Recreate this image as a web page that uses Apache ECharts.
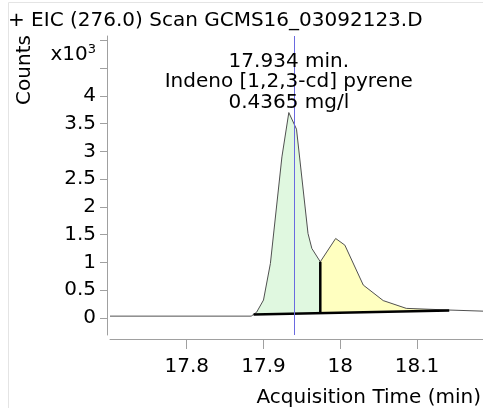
<!DOCTYPE html>
<html>
<head>
<meta charset="utf-8">
<script src="https://cdn.jsdelivr.net/npm/echarts@6.0.0/dist/echarts.min.js"></script>
<style>
html, body { margin: 0; padding: 0; background: #fff; }
#chart { width: 483px; height: 408px; }
</style>
</head>
<body>
<div id="chart"></div>
<script>
/*色谱曲线 (x: min, y: counts x10^3)*/
var times  = [17.700, 17.884, 17.887, 17.891, 17.900, 17.909, 17.924, 17.933, 17.943, 17.958, 17.963, 17.974, 17.994, 18.006, 18.030, 18.056, 18.086, 18.142, 18.186];
var counts = [0.03,   0.03,   0.06,   0.10,   0.32,   0.98,   2.90,   3.70,   3.40,   1.52,   1.25,   1.01,   1.43,   1.31,   0.59,   0.31,   0.17,   0.14,   0.12];

/*积分基线: 起点, 分割点, 终点*/
var baseTimes  = [17.887, 17.974, 18.142];
var baseCounts = [0.06, 0.08, 0.13];

/*积分区间*/
var peakRanges = [[17.887, 17.974], [17.974, 18.142]];
var peakColors = ['#e0f8e0', '#ffffc0'];

var markerTime = 17.943;
var peakLabel = ['17.934 min.', 'Indeno [1,2,3-cd] pyrene', '0.4365 mg/l'];

var xTicks = [17.8, 17.9, 18, 18.1];
var yTicks = [0, 0.5, 1, 1.5, 2, 2.5, 3, 3.5, 4, 4.5, 5];
var yLabels = [0, 0.5, 1, 1.5, 2, 2.5, 3, 3.5, 4];

var FONT = 'DejaVu Sans';
var FS = 20;
var AXIS_COLOR = '#a0a0a0';

function baseAt(t) {
	for (var i = 0; i < baseTimes.length; i++) {
		if (baseTimes[i] === t) return baseCounts[i];
	}
	return 0;
}

var curveData = [];
for (var i = 0; i < times.length; i++) {
	curveData.push([times[i], counts[i]]);
}
var baseData = [];
for (var j = 0; j < baseTimes.length; j++) {
	if (j !== 1) baseData.push([baseTimes[j], baseCounts[j]]);
}
var splitT = baseTimes[1];
var splitData = [[splitT, baseCounts[1]], [splitT, counts[times.indexOf(splitT)]]];

var peakIdx = counts.indexOf(Math.max.apply(null, counts));

var option = {
	animation: false,
	textStyle: { fontFamily: FONT },
	grid: { left: 110, right: 0, top: 36, bottom: 73 },
	xAxis: {
		type: 'value',
		min: 17.70,
		max: 18.186,
		offset: 4,
		axisLine: { show: true, onZero: false, lineStyle: { color: AXIS_COLOR, width: 1 } },
		axisTick: { show: true, length: 10, lineStyle: { color: AXIS_COLOR }, customValues: xTicks },
		axisLabel: { color: '#000', fontSize: FS, fontFamily: FONT, margin: 18, customValues: xTicks },
		splitLine: { show: false }
	},
	yAxis: {
		type: 'value',
		min: -0.31,
		max: 5.08,
		offset: 3,
		axisLine: { show: true, onZero: false, lineStyle: { color: AXIS_COLOR, width: 1 } },
		axisTick: { show: true, length: 7, lineStyle: { color: AXIS_COLOR }, customValues: yTicks },
		axisLabel: { color: '#000', fontSize: FS, fontFamily: FONT, margin: 11, customValues: yLabels },
		splitLine: { show: false }
	},
	graphic: [
		{ type: 'polyline', silent: true, shape: { points: [[8.5, 408], [8.5, 2.5], [483, 2.5]] }, style: { stroke: '#e4e4e4', fill: null, lineWidth: 1 } },
		{ type: 'text', x: 8, y: 20.5, style: { text: '+ EIC (276.0) Scan GCMS16_03092123.D', fontSize: FS, fontFamily: FONT, fill: '#000', verticalAlign: 'middle' } },
		{ type: 'text', x: 25, y: 70, rotation: Math.PI / 2, style: { text: 'Counts', fontSize: FS, fontFamily: FONT, fill: '#000', align: 'center', verticalAlign: 'middle' } },
		{ type: 'text', x: 96, y: 55, style: {
			text: '{a|x10}{b|3}', align: 'right', verticalAlign: 'middle',
			rich: { a: { fontSize: FS, fontFamily: FONT, fill: '#000' }, b: { fontSize: 13, fontFamily: FONT, fill: '#000', verticalAlign: 'top', padding: [0, 0, 10, 0] } }
		} },
		{ type: 'text', x: 481, y: 398, style: { text: 'Acquisition Time (min)', fontSize: FS, fontFamily: FONT, fill: '#000', align: 'right', verticalAlign: 'middle' } }
	],
	series: [
		{
			/*积分面积*/
			type: 'custom',
			silent: true,
			z: 1,
			data: peakRanges,
			encode: { x: [0, 1] },
			renderItem: function(params, api) {
				var t0 = api.value(0), t1 = api.value(1);
				var pts = [];
				for (var k = 0; k < times.length; k++) {
					if (times[k] >= t0 && times[k] <= t1) pts.push(api.coord([times[k], counts[k]]));
				}
				pts.push(api.coord([t1, baseAt(t1)]));
				pts.push(api.coord([t0, baseAt(t0)]));
				return { type: 'polygon', shape: { points: pts }, style: { fill: peakColors[params.dataIndex], stroke: null } };
			}
		},
		{
			/*曲线*/
			type: 'line',
			z: 3,
			data: curveData,
			symbol: 'none',
			lineStyle: { color: '#505050', width: 1 },
			markLine: {
				silent: true,
				symbol: ['none', 'none'],
				label: { show: false },
				lineStyle: { color: '#6a6ae0', width: 1, type: 'solid' },
				data: [{ xAxis: markerTime }]
			},
			markPoint: {
				symbol: 'circle',
				symbolSize: 0,
				data: [{ coord: [times[peakIdx], counts[peakIdx]] }],
				label: {
					show: true,
					position: 'top',
					distance: 0,
					formatter: peakLabel.join('\n'),
					fontSize: FS,
					lineHeight: 20.5,
					fontFamily: FONT,
					color: '#000',
					align: 'center'
				}
			}
		},
		{
			/*基线*/
			type: 'line',
			z: 4,
			data: baseData,
			symbol: 'none',
			lineStyle: { color: '#000', width: 2.5 }
		},
		{
			/*分割线*/
			type: 'line',
			z: 4,
			data: splitData,
			symbol: 'none',
			lineStyle: { color: '#000', width: 2.5 }
		}
	]
};

var myChart = echarts.init(document.getElementById('chart'));
myChart.setOption(option);
</script>
</body>
</html>
